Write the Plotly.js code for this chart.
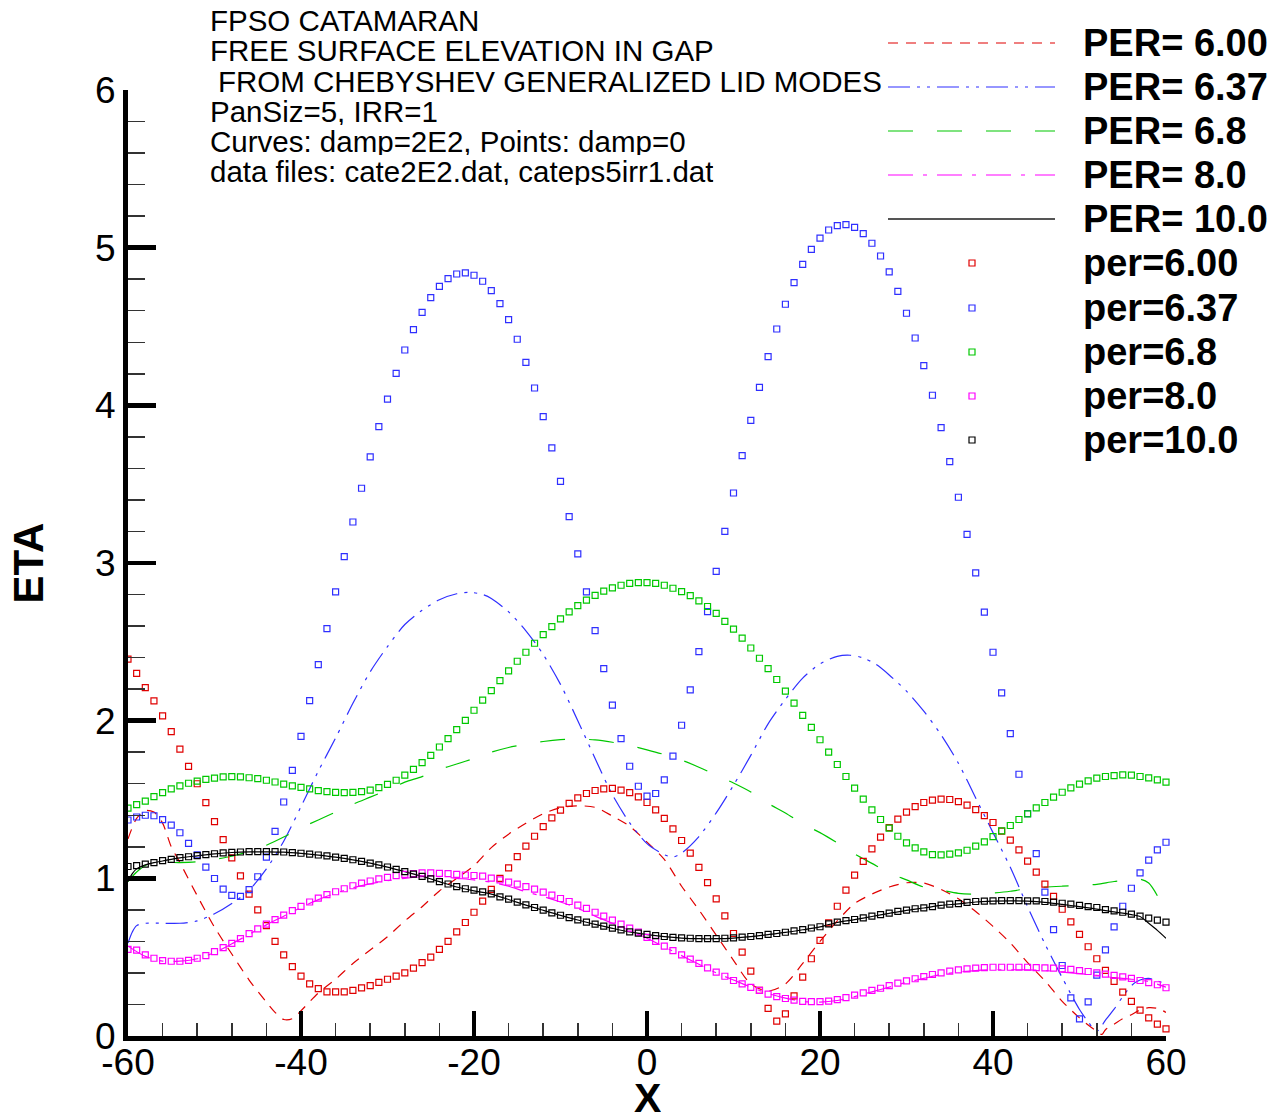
<!DOCTYPE html>
<html>
<head>
<meta charset="utf-8">
<script src="https://cdn.plot.ly/plotly-3.0.1.min.js"></script>
<style>html,body{margin:0;padding:0;background:#fff;}#chart{width:1277px;height:1117px;}</style>
</head>
<body>
<div id="chart"></div>
<script>
// ---------------- DATA ----------------
const xPoints = [-60,-59,-58,-57,-56,-55,-54,-53,-52,-51,-50,-49,-48,-47,-46,-45,-44,-43,-42,-41,
-40,-39,-38,-37,-36,-35,-34,-33,-32,-31,-30,-29,-28,-27,-26,-25,-24,-23,-22,-21,
-20,-19,-18,-17,-16,-15,-14,-13,-12,-11,-10,-9,-8,-7,-6,-5,-4,-3,-2,-1,
0,1,2,3,4,5,6,7,8,9,10,11,12,13,14,15,16,17,18,19,
20,21,22,23,24,25,26,27,28,29,30,31,32,33,34,35,36,37,38,39,
40,41,42,43,44,45,46,47,48,49,50,51,52,53,54,55,56,57,58,59,60];

// Points (damp=0)
const per600Pts = [2.39,2.30,2.21,2.125,2.03,1.93,1.82,1.71,1.60,1.48,1.36,1.245,1.13,1.015,0.90,0.80,0.70,0.60,0.515,0.44,
0.38,0.33,0.30,0.28,0.28,0.28,0.29,0.305,0.32,0.34,0.36,0.38,0.40,0.43,0.465,0.50,0.55,0.60,0.66,0.72,
0.785,0.855,0.93,1.0,1.066,1.138,1.204,1.267,1.328,1.383,1.432,1.475,1.51,1.538,1.557,1.567,1.57,1.56,1.544,1.517,
1.481,1.434,1.38,1.314,1.24,1.16,1.07,0.973,0.87,0.762,0.65,0.532,0.411,0.29,0.175,0.094,0.14,0.255,0.373,0.49,
0.607,0.718,0.823,0.925,1.02,1.107,1.187,1.261,1.322,1.375,1.42,1.455,1.481,1.496,1.502,1.50,1.487,1.464,1.436,1.398,
1.354,1.30,1.242,1.18,1.109,1.039,0.963,0.885,0.804,0.724,0.644,0.566,0.49,0.416,0.346,0.278,0.219,0.164,0.115,0.075,0.045];

const per637Pts = [1.37,1.389,1.40,1.397,1.372,1.338,1.289,1.222,1.149,1.071,0.999,0.932,0.892,0.886,0.928,1.01,1.135,1.298,1.484,1.685,
1.90,2.127,2.355,2.584,2.817,3.041,3.26,3.474,3.673,3.865,4.04,4.203,4.351,4.48,4.59,4.683,4.755,4.804,4.833,4.84,
4.825,4.787,4.727,4.645,4.544,4.419,4.273,4.11,3.928,3.73,3.518,3.294,3.058,2.817,2.571,2.33,2.098,1.886,1.711,1.584,
1.521,1.538,1.624,1.775,1.971,2.195,2.438,2.691,2.947,3.201,3.444,3.681,3.905,4.114,4.309,4.484,4.641,4.778,4.894,4.989,
5.061,5.112,5.14,5.146,5.129,5.089,5.028,4.947,4.846,4.723,4.584,4.427,4.252,4.064,3.859,3.643,3.417,3.182,2.937,2.688,
2.434,2.176,1.918,1.66,1.41,1.157,0.912,0.675,0.447,0.242,0.109,0.217,0.386,0.546,0.692,0.823,0.937,1.035,1.115,1.18,1.229];

const per68Pts = [1.445,1.467,1.49,1.518,1.543,1.567,1.586,1.603,1.617,1.628,1.636,1.643,1.645,1.643,1.638,1.632,1.622,1.611,1.598,1.586,
1.577,1.567,1.556,1.55,1.545,1.543,1.545,1.55,1.56,1.575,1.596,1.622,1.655,1.691,1.734,1.78,1.833,1.886,1.943,2.002,
2.066,2.13,2.191,2.254,2.316,2.377,2.434,2.491,2.546,2.597,2.645,2.69,2.73,2.764,2.795,2.821,2.842,2.859,2.871,2.876,
2.876,2.871,2.859,2.84,2.819,2.793,2.76,2.724,2.681,2.63,2.58,2.523,2.461,2.396,2.33,2.261,2.187,2.111,2.034,1.958,
1.879,1.80,1.722,1.646,1.572,1.502,1.434,1.373,1.318,1.267,1.225,1.193,1.168,1.151,1.149,1.153,1.162,1.178,1.204,1.231,
1.265,1.301,1.335,1.373,1.409,1.447,1.481,1.515,1.546,1.574,1.597,1.618,1.635,1.646,1.652,1.656,1.654,1.646,1.637,1.624,1.61];

const per80Pts = [0.55,0.545,0.514,0.493,0.478,0.474,0.474,0.48,0.493,0.51,0.535,0.56,0.588,0.617,0.649,0.679,0.71,0.738,0.767,0.795,
0.822,0.85,0.875,0.897,0.915,0.934,0.953,0.97,0.983,0.996,1.006,1.017,1.025,1.03,1.034,1.034,1.032,1.03,1.025,1.021,
1.018,1.014,1.001,0.99,0.976,0.963,0.948,0.931,0.912,0.893,0.872,0.853,0.83,0.809,0.785,0.76,0.735,0.709,0.684,0.659,
0.625,0.60,0.57,0.542,0.515,0.487,0.46,0.432,0.405,0.379,0.352,0.331,0.308,0.289,0.265,0.25,0.238,0.227,0.219,0.218,
0.218,0.221,0.231,0.244,0.259,0.274,0.289,0.303,0.32,0.335,0.35,0.363,0.377,0.39,0.40,0.411,0.42,0.426,0.43,0.434,
0.436,0.436,0.436,0.436,0.436,0.434,0.432,0.43,0.426,0.422,0.415,0.409,0.40,0.392,0.384,0.375,0.365,0.352,0.339,0.325,0.306];

const per100Pts = [1.075,1.08,1.09,1.10,1.112,1.12,1.131,1.137,1.144,1.15,1.156,1.161,1.165,1.167,1.169,1.169,1.169,1.169,1.167,1.163,
1.159,1.154,1.148,1.142,1.135,1.127,1.118,1.108,1.097,1.085,1.072,1.057,1.042,1.027,1.013,0.996,0.979,0.964,0.947,0.934,
0.925,0.914,0.902,0.883,0.868,0.849,0.832,0.815,0.798,0.781,0.766,0.751,0.737,0.722,0.709,0.697,0.684,0.673,0.661,0.652,
0.644,0.637,0.631,0.625,0.622,0.62,0.618,0.618,0.618,0.62,0.622,0.627,0.631,0.637,0.644,0.65,0.658,0.667,0.675,0.685,
0.693,0.711,0.722,0.732,0.739,0.749,0.76,0.77,0.779,0.79,0.798,0.807,0.813,0.821,0.83,0.836,0.84,0.847,0.853,0.855,
0.857,0.859,0.859,0.859,0.857,0.857,0.853,0.849,0.842,0.836,0.828,0.821,0.815,0.802,0.794,0.785,0.773,0.76,0.747,0.735,0.722];

// Curves (damp=2E2)
const per600CurveX = [-60,-59,-58,-57,-56,-55,-54,-52,-50,-48,-46,-44,-43,-42,-41,-40,-38,-36,-34,-32,-30,-28,-26,-24,-22,-20,-18,-16,-14,-12,-10,-8,-6,-4,-2,0,2,4,6,8,10,12,14,16,18,20,22,24,26,28,30,32,34,36,38,40,42,44,46,48,50,51,52,52.6,53,54,55,56,57,58,59,60];
const per600CurveY = [1.25,1.38,1.43,1.42,1.35,1.2,1.1,0.89,0.69,0.52,0.355,0.215,0.15,0.105,0.11,0.16,0.273,0.36,0.46,0.545,0.63,0.73,0.82,0.92,1.0,1.08,1.195,1.28,1.35,1.41,1.448,1.46,1.45,1.395,1.33,1.23,1.12,0.95,0.8,0.64,0.48,0.33,0.285,0.33,0.46,0.6,0.73,0.84,0.9,0.945,0.972,0.97,0.93,0.87,0.79,0.695,0.59,0.465,0.35,0.22,0.115,0.07,0.03,0.01,0.04,0.075,0.11,0.135,0.165,0.18,0.175,0.15];

const per637CurveX = [-60,-59.5,-59,-58,-56,-54,-52,-50,-48,-46,-44,-42,-40,-38,-36,-34,-32,-30,-28,-26,-24,-22,-20.5,-19,-18,-16,-14,-12,-10,-8,-6,-4,-2,0,2,3,4,6,8,10,12,14,16,18,20,22,23.5,25,26.5,28,30,32,34,36,38,40,42,44,46,48,50,51,52,53,54,55,56,57,58,59,60];
const per637CurveY = [0.59,0.66,0.70,0.715,0.715,0.715,0.73,0.775,0.84,0.925,1.06,1.235,1.455,1.68,1.89,2.11,2.31,2.47,2.61,2.70,2.767,2.805,2.814,2.80,2.775,2.69,2.57,2.42,2.23,2.0,1.76,1.53,1.352,1.22,1.15,1.135,1.16,1.265,1.415,1.59,1.78,1.98,2.135,2.27,2.36,2.408,2.415,2.398,2.356,2.29,2.187,2.06,1.91,1.73,1.51,1.29,1.07,0.82,0.585,0.37,0.168,0.09,0.03,0.10,0.17,0.25,0.32,0.355,0.365,0.35,0.33];

const per68CurveX = [-60,-59,-58,-56,-54,-52,-50,-48,-46,-44,-42,-40,-38,-36,-34,-32,-30,-28,-26,-24,-22,-20,-18,-16,-14,-12,-10,-8,-6,-4,-2,0,2,4,6,8,10,12,14,16,18,20,22,24,26,28,30,32,34,36,38,40,42,44,46,48,50,52,54,56,57,58,59];
const per68CurveY = [0.98,1.04,1.08,1.10,1.10,1.105,1.12,1.14,1.17,1.21,1.262,1.32,1.37,1.42,1.47,1.515,1.56,1.61,1.645,1.69,1.725,1.76,1.80,1.83,1.85,1.868,1.88,1.883,1.878,1.863,1.843,1.815,1.785,1.75,1.705,1.655,1.605,1.548,1.475,1.415,1.345,1.29,1.225,1.155,1.095,1.035,0.99,0.945,0.925,0.905,0.90,0.907,0.918,0.935,0.944,0.95,0.955,0.962,0.98,0.99,0.995,0.97,0.89];

const per80CurveX = [-60,-58,-56,-54,-52,-50,-48,-46,-44,-42,-40,-38,-36,-34,-32,-30,-28,-26,-24,-22,-20,-18,-16,-14,-12,-10,-8,-6,-4,-2,0,2,4,6,8,10,12,14,16,18,20,22,24,26,28,30,32,34,36,38,40,42,44,46,48,50,52,54,56,58,60];
const per80CurveY = [0.57,0.505,0.475,0.475,0.49,0.53,0.585,0.645,0.705,0.76,0.815,0.865,0.905,0.94,0.965,0.985,1.0,1.01,1.01,1.0,0.99,0.975,0.95,0.915,0.885,0.85,0.81,0.76,0.715,0.668,0.62,0.565,0.51,0.455,0.40,0.355,0.31,0.27,0.24,0.22,0.215,0.225,0.25,0.28,0.31,0.34,0.365,0.39,0.405,0.415,0.42,0.42,0.42,0.415,0.405,0.395,0.385,0.37,0.36,0.345,0.31];

const per100CurveX = [-60,-59.5,-59,-58,-57,-56,-54,-52,-50,-48,-46,-44,-42,-40,-38,-36,-34,-32,-30,-28,-26,-24,-22,-20,-18,-16,-14,-12,-10,-8,-6,-4,-2,0,2,4,6,8,10,12,14,16,18,20,22,24,26,28,30,32,34,36,38,40,42,44,46,48,50,52,54,56,57,58,59,60];
const per100CurveY = [0.98,1.03,1.06,1.085,1.10,1.11,1.13,1.143,1.155,1.164,1.168,1.168,1.166,1.158,1.147,1.134,1.117,1.096,1.071,1.042,1.013,0.979,0.945,0.92,0.9,0.866,0.83,0.797,0.765,0.736,0.708,0.683,0.66,0.643,0.63,0.621,0.617,0.617,0.621,0.63,0.643,0.657,0.674,0.692,0.72,0.738,0.758,0.778,0.797,0.812,0.828,0.838,0.85,0.855,0.857,0.855,0.848,0.835,0.82,0.805,0.787,0.77,0.758,0.715,0.67,0.62];

const curveLabels = ['PER= 6.00','PER= 6.37','PER= 6.8','PER= 8.0','PER= 10.0'];
const pointLabels = ['per=6.00','per=6.37','per=6.8','per=8.0','per=10.0'];
const headerLines = ['FPSO CATAMARAN','FREE SURFACE ELEVATION IN GAP','FROM CHEBYSHEV GENERALIZED LID MODES','PanSiz=5, IRR=1','Curves: damp=2E2, Points: damp=0','data files: cate2E2.dat, cateps5irr1.dat'];
const xTicks = [-60,-40,-20,0,20,40,60];
const yTicks = [0,1,2,3,4,5,6];
const xTitle = 'X';
const yTitle = 'ETA';

// ---------------- STYLE ----------------
const FONT = 'Liberation Sans, Arial, Helvetica, sans-serif';
const colors = ['#e00000','#2f2fff','#00c800','#ff00ff','#000000'];
const dashes = ['10px,8px','22px,7px,3px,7px,3px,7px','25px,24px','25px,10px,4px,10px','solid'];

const curves = [
  [per600CurveX, per600CurveY],[per637CurveX, per637CurveY],[per68CurveX, per68CurveY],
  [per80CurveX, per80CurveY],[per100CurveX, per100CurveY]
];
const pts = [per600Pts, per637Pts, per68Pts, per80Pts, per100Pts];

const traces = [];
curves.forEach((c,i)=>{
  traces.push({x:c[0], y:c[1], type:'scatter', mode:'lines', showlegend:false, hoverinfo:'skip',
    line:{color:colors[i], width:1.2, dash:dashes[i], shape:'spline', smoothing:0.8}});
});
pts.forEach((p,i)=>{
  traces.push({x:xPoints, y:p, type:'scatter', mode:'markers', showlegend:false, hoverinfo:'skip', cliponaxis:false,
    marker:{symbol:'square-open', size:6, color:colors[i], line:{color:colors[i], width:1.2}}});
});

// pixel helpers for decorations (plot area: x 128..1166, y 90..1036)
const PL=128, PR=1166, PT=90, PB=1036;
const px = v => (v-PL)/(PR-PL);
const py = v => (PB-v)/(PB-PT);

const annotations = [];
const shapes = [];
const headerY = [20,50,81,111,141,171];
headerLines.forEach((t,i)=>{
  annotations.push({xref:'paper', yref:'paper', x:px(i===2?216:208), y:py(headerY[i]), xanchor:'left', yanchor:'middle',
    height:28, valign:'middle',
    text:t, showarrow:false, font:{family:FONT, size:29.5, color:'#000'}});
});
const curveRowY = [43,87,131,175,219];
const ptRowY = [263,308,352,396,440];
curveLabels.forEach((t,i)=>{
  annotations.push({xref:'paper', yref:'paper', x:px(1081), y:py(curveRowY[i]), xanchor:'left', yanchor:'middle',
    text:'<b>'+t+'</b>', showarrow:false, font:{family:FONT, size:38, color:'#000'}});
  shapes.push({type:'line', xref:'paper', yref:'paper', x0:px(888), x1:px(1055), y0:py(curveRowY[i]), y1:py(curveRowY[i]),
    line:{color: i===4 ? '#555' : colors[i], width: i===4 ? 2 : 1.2, dash: dashes[i]}});
});
pointLabels.forEach((t,i)=>{
  annotations.push({xref:'paper', yref:'paper', x:px(1081), y:py(ptRowY[i]), xanchor:'left', yanchor:'middle',
    text:'<b>'+t+'</b>', showarrow:false, font:{family:FONT, size:38, color:'#000'}});
  shapes.push({type:'rect', xref:'paper', yref:'paper', xsizemode:'pixel', ysizemode:'pixel',
    xanchor:px(972), yanchor:py(ptRowY[i]), x0:-3, x1:3, y0:-3, y1:3,
    line:{color:colors[i], width:1.2}, fillcolor:'rgba(0,0,0,0)'});
});
// X axis title placed below the tick labels
annotations.push({xref:'paper', yref:'paper', x:px(647), y:py(1098), xanchor:'center', yanchor:'middle',
  height:30, valign:'middle',
  text:'<b>'+xTitle+'</b>', showarrow:false, font:{family:FONT, size:41, color:'#000'}});

const layout = {
  width:1277, height:1117,
  margin:{l:PL, r:1277-PR, t:PT, b:1117-PB},
  paper_bgcolor:'#fff', plot_bgcolor:'#fff',
  showlegend:false,
  font:{family:FONT, color:'#000'},
  xaxis:{range:[-60,60], tickvals:xTicks, ticktext:xTicks.map(String), ticks:'inside', ticklen:25, tickwidth:3.5, tickcolor:'#000',
    ticklabelstandoff:-10,
    showline:true, linewidth:5, linecolor:'#000', showgrid:false, zeroline:false, mirror:false,
    tickfont:{family:FONT, size:37, color:'#000'},
    minor:{dtick:4, tick0:0, ticks:'inside', ticklen:13, tickwidth:1.5, tickcolor:'#333', showgrid:false}},
  yaxis:{range:[0,6], tickvals:yTicks, ticktext:yTicks.map(String), ticks:'inside', ticklen:28, tickwidth:4.5, tickcolor:'#000',
    showline:true, linewidth:5, linecolor:'#000', showgrid:false, zeroline:false, mirror:false,
    tickfont:{family:FONT, size:37, color:'#000'},
    minor:{dtick:0.2, tick0:0, ticks:'inside', ticklen:17, tickwidth:1.5, tickcolor:'#333', showgrid:false},
    title:{text:'<b>'+yTitle+'</b>', font:{family:FONT, size:42, color:'#000'}, standoff:40}},
  annotations:annotations,
  shapes:shapes
};

Plotly.newPlot('chart', traces, layout, {staticPlot:true, displayModeBar:false});
</script>
</body>
</html>
